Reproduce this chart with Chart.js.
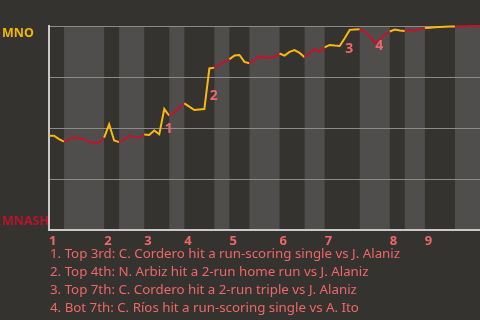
<!DOCTYPE html>
<html>
<head>
<meta charset="utf-8">
<script src="https://cdn.jsdelivr.net/npm/chart.js@4.4.1/dist/chart.umd.min.js"></script>
<style>
  html, body { margin: 0; padding: 0; background: #353330; }
  #wrap { position: relative; width: 480px; height: 320px; overflow: hidden; }
  #notes {
    position: absolute; left: 50px; top: 244px;
    font-family: 'Noto Sans', sans-serif; font-size: 13.3px; line-height: 18px;
    color: #ef6767; white-space: nowrap;
  }
</style>
</head>
<body>
<div id="wrap">
  <canvas id="myChart" width="480" height="320"></canvas>
  <div id="notes"></div>
</div>
<script>
'use strict';

// plays in each half inning (top 1st, bot 1st, top 2nd, ...)
let halfPlays = [3, 8, 3, 5, 5, 3, 6, 3, 4, 6, 5, 4, 7, 6, 3, 4, 6, 5];
let innings = ['1', '2', '3', '4', '5', '6', '7', '8', '9'];

// MNO win probability (%) after each play, starting value first
let winProb = [
  46.2,
  46.2, 44.6, 43.3,
  44.4, 45.4, 44.9, 44.6, 43.1, 42.8, 42.8, 45.3,
  51.8, 43.9, 43.1,
  44.4, 46.1, 45.4, 45.2, 46.8,
  46.6, 48.8, 46.9, 59.3, 56.0,
  57.6, 60.0, 62.1,
  60.5, 58.8, 59.1, 59.3, 79.2, 79.6,
  81.0, 82.4, 83.7,
  85.5, 85.8, 82.4, 81.7,
  83.3, 85.1, 84.6, 84.6, 84.6, 86.5,
  85.5, 87.3, 88.2, 86.8, 84.7,
  86.8, 88.7, 87.3, 89.5,
  90.7, 90.4, 90.2, 94.0, 98.1, 98.3, 98.4,
  97.3, 95.1, 91.7, 93.4, 95.6, 97.3,
  98.3, 97.8, 97.5,
  98.3, 97.5, 98.6, 99.0,
  99.2, 99.4, 99.5, 99.6, 99.7, 99.8,
  99.9, 99.9, 100, 100, 100
];

let eventPlays = [23, 32, 59, 65];
let eventLabels = ['1', '2', '3', '4'];
let eventTexts = [
  '1. Top 3rd: C. Cordero hit a run-scoring single vs J. Alaniz',
  '2. Top 4th: N. Arbiz hit a 2-run home run vs J. Alaniz',
  '3. Top 7th: C. Cordero hit a 2-run triple vs J. Alaniz',
  '4. Bot 7th: C. Ríos hit a run-scoring single vs A. Ito'
];

let awayName = 'MNO';
let homeName = 'MNASH';

let yellow = '#fbb80f';
let red = '#c4122d';
let salmon = '#ef6767';

let halfStarts = [];
let total = 0;
for (let i = 0; i < halfPlays.length; i++) {
  halfStarts.push(total);
  total += halfPlays[i];
}

function halfOf(play) {
  for (let i = halfPlays.length - 1; i >= 0; i--) {
    if (play > halfStarts[i]) {
      return i;
    }
  }
  return 0;
}

let points = [];
for (let i = 0; i < winProb.length; i++) {
  points.push({ x: i, y: winProb[i] });
}

let bandPlugin = {
  id: 'bands',
  beforeDraw(chart) {
    let ctx = chart.ctx;
    let area = chart.chartArea;
    let xs = chart.scales.x;
    ctx.save();
    ctx.fillStyle = '#4f4e4c';
    for (let i = 1; i < halfPlays.length; i += 2) {
      let x0 = xs.getPixelForValue(halfStarts[i]);
      let x1 = xs.getPixelForValue(halfStarts[i] + halfPlays[i]);
      ctx.fillRect(x0, area.top, x1 - x0, area.bottom - area.top);
    }
    ctx.restore();
  },
  afterDraw(chart) {
    let ctx = chart.ctx;
    let area = chart.chartArea;
    let xs = chart.scales.x;
    let ys = chart.scales.y;
    ctx.save();
    ctx.font = 'bold 12.5px "Noto Sans", sans-serif';
    ctx.textBaseline = 'middle';
    ctx.textAlign = 'left';
    ctx.fillStyle = '#f2b705';
    ctx.fillText(awayName, 2, area.top + 7);
    ctx.fillStyle = '#b8132c';
    ctx.fillText(homeName, 2, area.bottom - 9);

    ctx.font = 'bold 14px "Noto Sans", sans-serif';
    ctx.textAlign = 'center';
    ctx.fillStyle = salmon;
    for (let i = 0; i < eventPlays.length; i++) {
      let p = eventPlays[i];
      let mx = (xs.getPixelForValue(p - 1) + xs.getPixelForValue(p)) / 2;
      let my = (ys.getPixelForValue(winProb[p - 1]) + ys.getPixelForValue(winProb[p])) / 2;
      ctx.fillText(eventLabels[i], mx + 7, my + 7);
    }
    ctx.restore();
  }
};

let config = {
  type: 'line',
  data: {
    datasets: [
      {
        data: points,
        borderWidth: 2,
        pointRadius: 0,
        tension: 0,
        clip: false,
        segment: {
          borderColor: (c) => (halfOf(c.p1DataIndex) % 2 === 0 ? yellow : red),
        },
      },
    ],
  },
  options: {
    responsive: false,
    animation: false,
    layout: { padding: { top: 26, right: 0, left: 0, bottom: 0 } },
    plugins: { legend: { display: false }, tooltip: { enabled: false } },
    scales: {
      x: {
        type: 'linear',
        min: 0,
        max: total,
        afterBuildTicks(scale) {
          scale.ticks = innings.map((n, i) => ({ value: halfStarts[i * 2], label: n }));
        },
        afterFit(scale) {
          scale.height = 90;
        },
        grid: { display: false, drawTicks: false },
        border: { display: true, color: '#c9c9c9', width: 2 },
        ticks: {
          align: 'start',
          padding: 3,
          autoSkip: false,
          maxRotation: 0,
          color: salmon,
          font: { family: 'Noto Sans', size: 13, weight: 'bold' },
          callback: (v) => {
            let i = halfStarts.indexOf(v);
            return i >= 0 && i % 2 === 0 ? innings[i / 2] : '';
          },
        },
      },
      y: {
        min: 0,
        max: 100,
        afterBuildTicks(scale) {
          scale.ticks = [0, 25, 50, 75, 100].map((v) => ({ value: v }));
        },
        afterFit(scale) {
          scale.width = 49;
        },
        grid: { color: '#8d8b89', lineWidth: 1, drawTicks: false },
        border: { display: true, color: '#c9c9c9', width: 2 },
        ticks: { display: false },
      },
    },
  },
  plugins: [bandPlugin],
};

let chartCanvas = document.getElementById('myChart').getContext('2d');
const myChart = new Chart(chartCanvas, config);

document.getElementById('notes').innerHTML = eventTexts.map((t) => '<div>' + t + '</div>').join('');
</script>
</body>
</html>
